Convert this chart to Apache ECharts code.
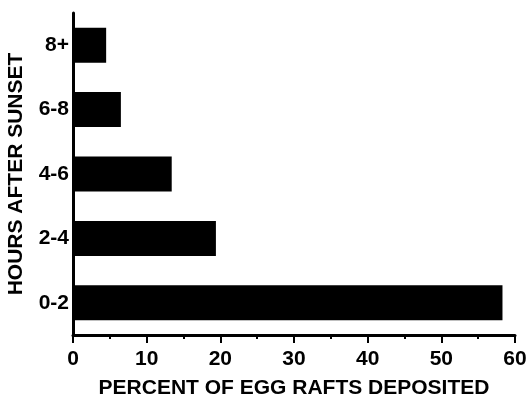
<!DOCTYPE html>
<html>
<head>
<meta charset="utf-8">
<script src="https://cdn.jsdelivr.net/npm/echarts@6/dist/echarts.min.js"></script>
<style>html,body{margin:0;padding:0;background:#fff;}#c{width:527px;height:398px;}</style>
</head>
<body>
<div id="c"></div>
<script>
const categories = ['0-2', '2-4', '4-6', '6-8', '8+'];
const percentValues = [58.3, 19.4, 13.4, 6.5, 4.5];
const xTicks = [0, 10, 20, 30, 40, 50, 60];

const chart = echarts.init(document.getElementById('c'), null, {renderer: 'canvas'});
const font = '"Liberation Sans", Arial, Helvetica, sans-serif';
chart.setOption({
  animation: false,
  backgroundColor: '#fff',
  grid: {left: 73, right: 12, top: 13, bottom: 63, containLabel: false, outerBoundsMode: 'none'},
  xAxis: {
    type: 'value',
    min: xTicks[0],
    max: xTicks[xTicks.length - 1],
    interval: 10,
    name: 'PERCENT OF EGG RAFTS DEPOSITED',
    nameLocation: 'middle',
    nameGap: 43,
    nameTextStyle: {fontFamily: font, fontWeight: 'bold', fontSize: 21, color: '#000'},
    axisLine: {show: true, lineStyle: {color: '#000', width: 3}},
    axisTick: {show: true, length: 8, lineStyle: {color: '#000', width: 2}},
    minorTick: {show: true, splitNumber: 2, length: 4, lineStyle: {color: '#000', width: 2}},
    splitLine: {show: false},
    axisLabel: {fontFamily: font, fontWeight: 'bold', fontSize: 21, color: '#000', margin: 14}
  },
  yAxis: {
    type: 'category',
    data: categories,
    name: 'HOURS AFTER SUNSET',
    nameLocation: 'middle',
    nameGap: 46,
    nameTextStyle: {fontFamily: font, fontWeight: 'bold', fontSize: 21, color: '#000'},
    axisLine: {show: true, lineStyle: {color: '#000', width: 3}},
    axisTick: {show: false},
    splitLine: {show: false},
    axisLabel: {fontFamily: font, fontWeight: 'bold', fontSize: 21, color: '#000', margin: 4}
  },
  series: [{
    type: 'bar',
    data: percentValues,
    barWidth: 35,
    itemStyle: {color: '#000'}
  }]
});
</script>
</body>
</html>
